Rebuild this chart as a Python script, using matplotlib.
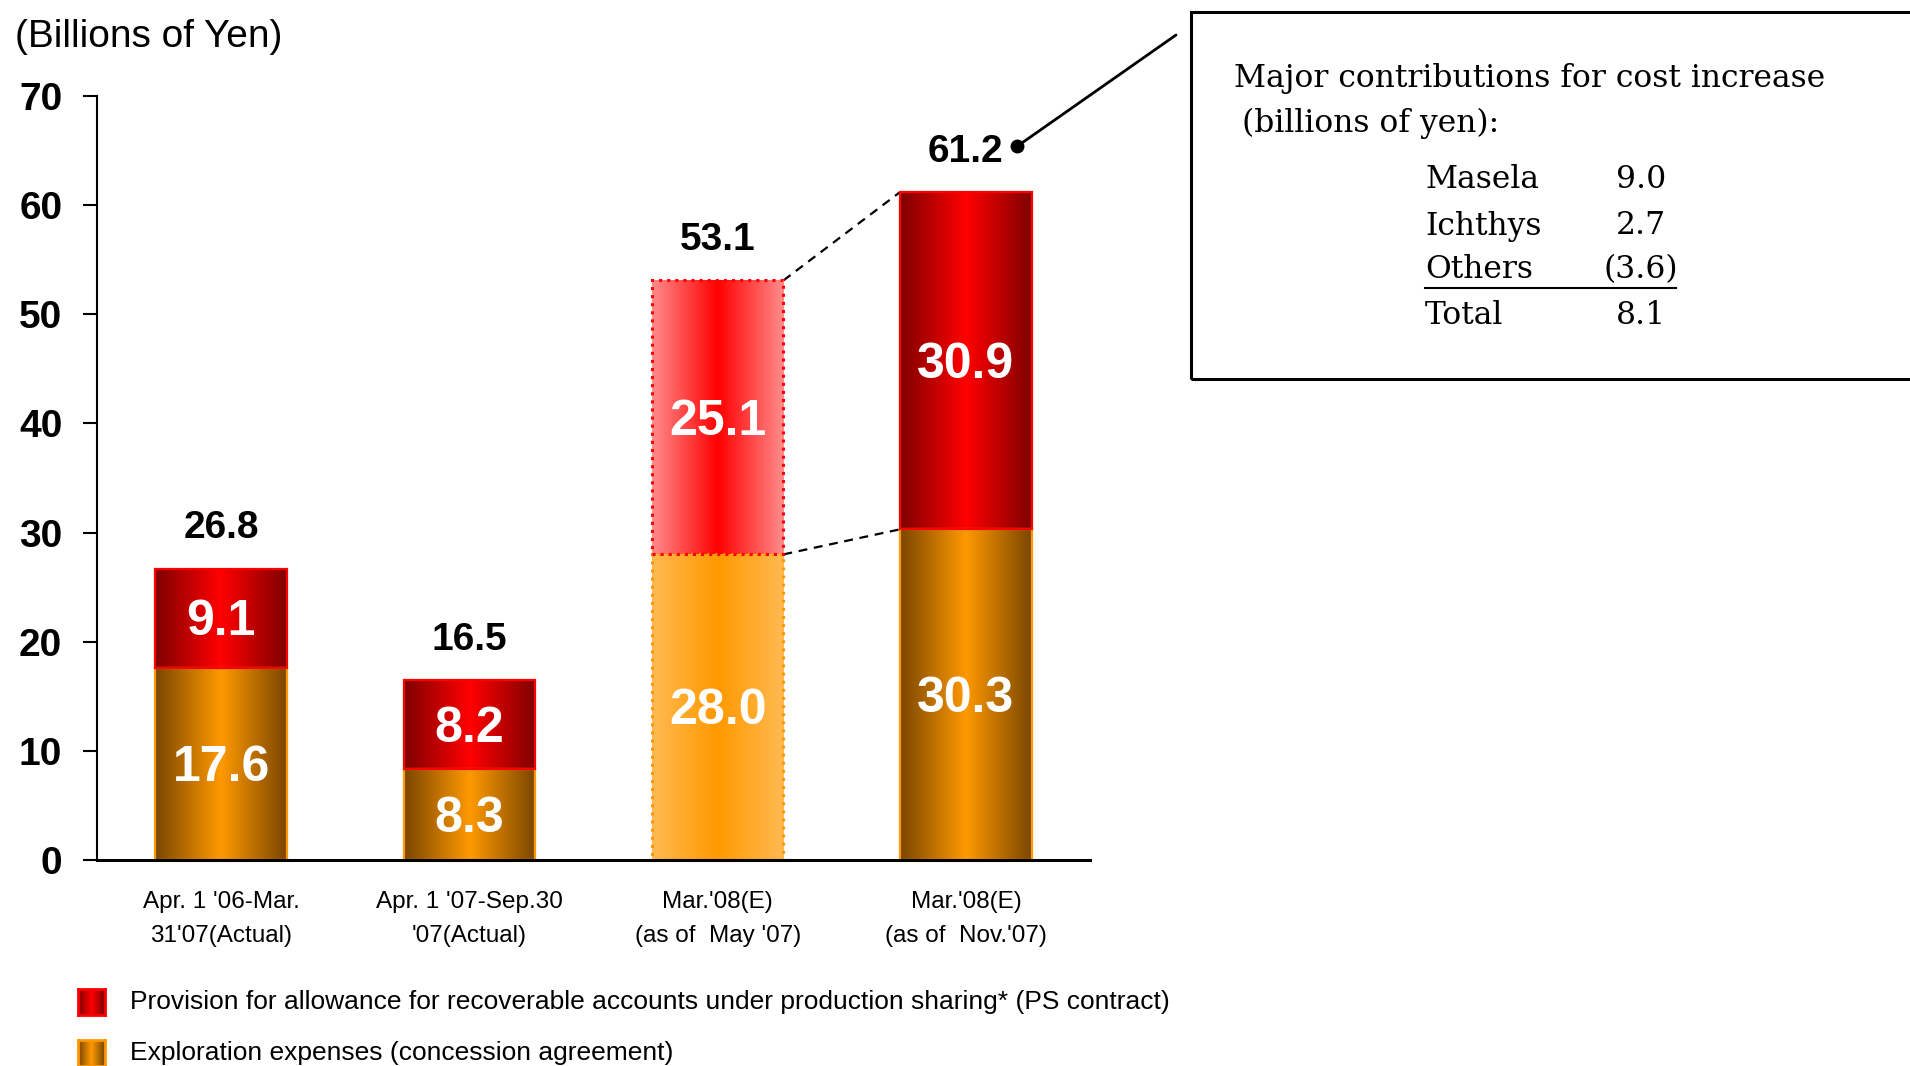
import numpy as np
import matplotlib
matplotlib.use("Agg")
import matplotlib.pyplot as plt
from matplotlib.patches import Rectangle, ConnectionPatch
from matplotlib.transforms import ScaledTranslation

# data
categories = ["Apr. 1 '06-Mar.\n31'07(Actual)", "Apr. 1 '07-Sep.30\n'07(Actual)",
              "Mar.'08(E)\n(as of  May '07)", "Mar.'08(E)\n(as of  Nov.'07)"]
exploration = [17.6, 8.3, 28.0, 30.3]
provision = [9.1, 8.2, 25.1, 30.9]
totals = [26.8, 16.5, 53.1, 61.2]
is_old_forecast = [False, False, True, False]

contrib_names = ["Masela", "Ichthys", "Others", "Total"]
contrib_values = ["9.0", "2.7", "(3.6)", "8.1"]

legend_labels = ["Provision for allowance for recoverable accounts under production sharing* (PS contract)",
                 "Exploration expenses (concession agreement)"]

W, H = 1910, 1066
SANS = "Liberation Sans"
SERIF = "DejaVu Serif"


def gradient(edge, mid, n=256):
    edge = np.array(matplotlib.colors.to_rgb(edge))
    mid = np.array(matplotlib.colors.to_rgb(mid))
    t = np.linspace(0, 1, n)
    w = 1 - np.abs(2 * t - 1)
    return (edge[None, :] + (mid - edge)[None, :] * w[:, None])[None, :, :]


RED = ("#7f0000", "#ff0000")
ORANGE = ("#7a4600", "#ff9900")
RED_LIGHT = ("#ff8c8c", "#ff0000")
ORANGE_LIGHT = ("#ffba52", "#ff9900")

fig = plt.figure(figsize=(W / 100, H / 100), dpi=100)
ax = fig.add_axes([97 / W, 1 - 860 / H, (1090 - 97) / W, (860 - 96) / H])

x = np.arange(len(categories))
bw = 0.53


def draw_seg(xc, bottom, height, cols, edgecol, ls):
    img = gradient(*cols)
    ax.imshow(img, extent=(xc - bw / 2, xc + bw / 2, bottom, bottom + height),
              aspect="auto", interpolation="bilinear", zorder=2)
    ax.bar(xc, height, bw, bottom, facecolor="none", edgecolor=edgecol,
           linewidth=2.2 if ls == ":" else 1.6, linestyle=ls, zorder=3)


for i in range(len(x)):
    if is_old_forecast[i]:
        draw_seg(x[i], 0, exploration[i], ORANGE_LIGHT, "#ff9900", ":")
        draw_seg(x[i], exploration[i], provision[i], RED_LIGHT, "#ff0000", ":")
    else:
        draw_seg(x[i], 0, exploration[i], ORANGE, "#ff9900", "-")
        draw_seg(x[i], exploration[i], provision[i], RED, "#ff0000", "-")
    ax.annotate(f"{exploration[i]:.1f}", xy=(x[i], exploration[i] / 2), xytext=(0, -3),
                textcoords="offset points", ha="center", va="center",
                color="white", fontsize=36, fontweight="bold", family=SANS, zorder=4)
    ax.annotate(f"{provision[i]:.1f}", xy=(x[i], exploration[i] + provision[i] / 2),
                xytext=(0, -3), textcoords="offset points", ha="center", va="center",
                color="white", fontsize=36, fontweight="bold", family=SANS, zorder=4)
    ax.annotate(f"{totals[i]:.1f}", xy=(x[i], exploration[i] + provision[i]),
                xytext=(0, 29), textcoords="offset points", ha="center", va="center",
                fontsize=28, fontweight="bold", family=SANS)

# dashed connectors between the two forecasts
tops = [e + p for e, p in zip(exploration, provision)]
for lvl in (exploration, tops):
    ax.plot([x[2] + bw / 2, x[3] - bw / 2], [lvl[2], lvl[3]], color="black",
            lw=1.6, linestyle=(0, (4, 3)), zorder=1)

ax.set_xlim(-0.5, 3.5)
ax.set_ylim(0, 70)
ax.set_yticks(range(0, 71, 10))
ax.set_xticks(x)
ax.set_xticklabels(categories, fontsize=17.5, family=SANS, linespacing=1.7)
for lab in ax.get_yticklabels():
    lab.set_fontsize(28)
    lab.set_fontweight("bold")
    lab.set_family(SANS)
ax.tick_params(axis="y", direction="out", length=10, width=1.5, pad=15)
ax.tick_params(axis="x", length=0, pad=22.5)
for s in ("top", "right"):
    ax.spines[s].set_visible(False)
ax.spines["left"].set_linewidth(1.5)
ax.spines["bottom"].set_linewidth(2.2)
ax.spines["bottom"].set_zorder(5)

fig.text(15 / W, 1 - 37 / H, "(Billions of Yen)", fontsize=28, family=SANS,
         ha="left", va="center")

# callout dot and line to the box
dot_tr = ax.transData + ScaledTranslation(37 / 72, 33 / 72, fig.dpi_scale_trans)
ax.plot([x[3]], [tops[3]], "o", color="black", ms=9, transform=dot_tr, clip_on=False)
con = ConnectionPatch(xyA=(x[3], tops[3]), coordsA=dot_tr,
                      xyB=(1176 / W, 1 - 35 / H), coordsB="figure fraction",
                      color="black", lw=2.0)
fig.add_artist(con)

# notes box
fig.add_artist(Rectangle((1191 / W, 1 - 379 / H), (1920 - 1191) / W, (379 - 12) / H,
                         transform=fig.transFigure, fill=False, lw=2.2, ec="black"))
fig.text(1234 / W, 1 - 78 / H, "Major contributions for cost increase", fontsize=22.6,
         family=SERIF, ha="left", va="center")
fig.text(1242 / W, 1 - 123 / H, "(billions of yen):", fontsize=22.6, family=SERIF,
         ha="left", va="center")
row_y = [179, 226, 270, 315]
for name, val, yy in zip(contrib_names, contrib_values, row_y):
    fig.text(1425 / W, 1 - yy / H, name, fontsize=22.6, family=SERIF, ha="left", va="center")
    fig.text(1641 / W, 1 - yy / H, val, fontsize=22.6, family=SERIF, ha="center", va="center")
fig.add_artist(plt.Line2D([1425 / W, 1676 / W], [1 - 288 / H, 1 - 288 / H],
                          transform=fig.transFigure, color="black", lw=1.5))

# legend
leg_cols = [(RED, "#ff0000"), (ORANGE, "#ff9900")]
leg_y = [1002, 1053]
for (cols, ec), lab, yy in zip(leg_cols, legend_labels, leg_y):
    lax = fig.add_axes([78 / W, 1 - (yy + 13) / H, 27 / W, 26 / H])
    lax.imshow(gradient(*cols, n=32), aspect="auto", interpolation="bilinear")
    lax.set_xticks([])
    lax.set_yticks([])
    for s in lax.spines.values():
        s.set_color(ec)
        s.set_linewidth(2)
    fig.text(130 / W, 1 - yy / H, lab, fontsize=19, family=SANS, ha="left", va="center")

fig.savefig("out.png", dpi=100)
